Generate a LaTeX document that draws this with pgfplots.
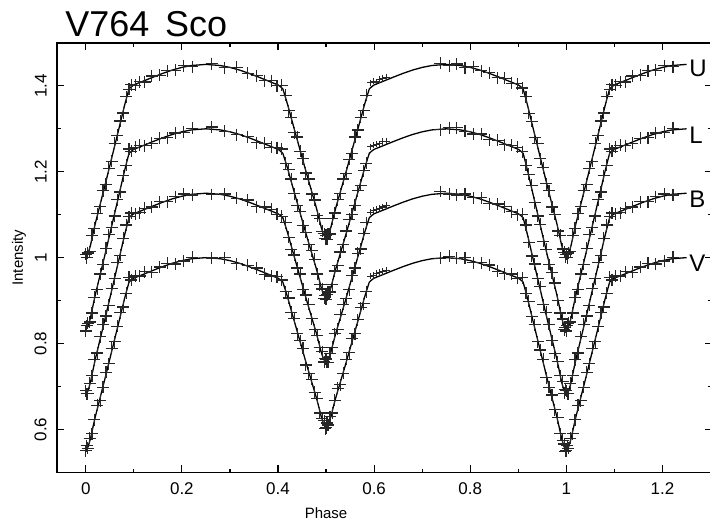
\documentclass[border=0pt]{standalone}
\usepackage{pgfplots}
\pgfplotsset{compat=1.18}
\usepackage{pgfplotstable}
\usepackage{fontspec}
\setmainfont{Liberation Sans}

\pgfplotstableread{
ph U L B V
0.000 1.0030 0.8330 0.6830 0.5530
0.005 1.0098 0.8402 0.6902 0.5598
0.010 1.0295 0.8609 0.7109 0.5795
0.015 1.0553 0.8881 0.7381 0.6053
0.020 1.0801 0.9142 0.7642 0.6301
0.030 1.1241 0.9604 0.8104 0.6741
0.040 1.1683 1.0069 0.8569 0.7183
0.050 1.2138 1.0547 0.9047 0.7638
0.060 1.2594 1.1026 0.9526 0.8094
0.070 1.3050 1.1504 1.0004 0.8550
0.080 1.3513 1.1990 1.0490 0.9013
0.085 1.3726 1.2215 1.0715 0.9226
0.090 1.3930 1.2430 1.0930 0.9430
0.095 1.3981 1.2481 1.0981 0.9481
0.100 1.4022 1.2522 1.1022 0.9522
0.120 1.4112 1.2612 1.1112 0.9612
0.140 1.4203 1.2703 1.1203 0.9703
0.160 1.4290 1.2790 1.1290 0.9790
0.180 1.4368 1.2868 1.1368 0.9868
0.200 1.4430 1.2930 1.1430 0.9930
0.220 1.4474 1.2974 1.1474 0.9974
0.250 1.4500 1.3000 1.1500 1.0000
0.280 1.4474 1.2974 1.1474 0.9974
0.300 1.4430 1.2930 1.1430 0.9930
0.320 1.4368 1.2868 1.1368 0.9868
0.340 1.4290 1.2790 1.1290 0.9790
0.360 1.4203 1.2703 1.1203 0.9703
0.380 1.4112 1.2612 1.1112 0.9612
0.400 1.4022 1.2522 1.1022 0.9522
0.405 1.3981 1.2481 1.0981 0.9481
0.410 1.3930 1.2430 1.0930 0.9430
0.415 1.3751 1.2257 1.0757 0.9257
0.420 1.3564 1.2075 1.0575 0.9075
0.430 1.3150 1.1673 1.0173 0.8673
0.440 1.2744 1.1278 0.9778 0.8278
0.450 1.2339 1.0884 0.9384 0.7884
0.460 1.1934 1.0491 0.8991 0.7491
0.470 1.1542 1.0110 0.8610 0.7110
0.480 1.1151 0.9731 0.8231 0.6731
0.485 1.0932 0.9518 0.8018 0.6518
0.490 1.0704 0.9297 0.7797 0.6297
0.495 1.0530 0.9128 0.7628 0.6128
0.500 1.0470 0.9070 0.7570 0.6070
0.505 1.0530 0.9128 0.7628 0.6128
0.510 1.0704 0.9297 0.7797 0.6297
0.515 1.0932 0.9518 0.8018 0.6518
0.520 1.1151 0.9731 0.8231 0.6731
0.530 1.1542 1.0110 0.8610 0.7110
0.540 1.1934 1.0491 0.8991 0.7491
0.550 1.2339 1.0884 0.9384 0.7884
0.560 1.2744 1.1278 0.9778 0.8278
0.570 1.3150 1.1673 1.0173 0.8673
0.580 1.3564 1.2075 1.0575 0.9075
0.585 1.3751 1.2257 1.0757 0.9257
0.590 1.3930 1.2430 1.0930 0.9430
0.595 1.3981 1.2481 1.0981 0.9481
0.600 1.4022 1.2522 1.1022 0.9522
0.620 1.4112 1.2612 1.1112 0.9612
0.640 1.4203 1.2703 1.1203 0.9703
0.660 1.4290 1.2790 1.1290 0.9790
0.680 1.4368 1.2868 1.1368 0.9868
0.700 1.4430 1.2930 1.1430 0.9930
0.720 1.4474 1.2974 1.1474 0.9974
0.750 1.4500 1.3000 1.1500 1.0000
0.780 1.4474 1.2974 1.1474 0.9974
0.800 1.4430 1.2930 1.1430 0.9930
0.820 1.4368 1.2868 1.1368 0.9868
0.840 1.4290 1.2790 1.1290 0.9790
0.860 1.4203 1.2703 1.1203 0.9703
0.880 1.4112 1.2612 1.1112 0.9612
0.900 1.4022 1.2522 1.1022 0.9522
0.905 1.3981 1.2481 1.0981 0.9481
0.910 1.3930 1.2430 1.0930 0.9430
0.915 1.3726 1.2215 1.0715 0.9226
0.920 1.3513 1.1990 1.0490 0.9013
0.930 1.3050 1.1504 1.0004 0.8550
0.940 1.2594 1.1026 0.9526 0.8094
0.950 1.2138 1.0547 0.9047 0.7638
0.960 1.1683 1.0069 0.8569 0.7183
0.970 1.1241 0.9604 0.8104 0.6741
0.980 1.0801 0.9142 0.7642 0.6301
0.985 1.0553 0.8881 0.7381 0.6053
0.990 1.0295 0.8609 0.7109 0.5795
0.995 1.0098 0.8402 0.6902 0.5598
1.000 1.0030 0.8330 0.6830 0.5530
1.005 1.0098 0.8402 0.6902 0.5598
1.010 1.0295 0.8609 0.7109 0.5795
1.015 1.0553 0.8881 0.7381 0.6053
1.020 1.0801 0.9142 0.7642 0.6301
1.030 1.1241 0.9604 0.8104 0.6741
1.040 1.1683 1.0069 0.8569 0.7183
1.050 1.2138 1.0547 0.9047 0.7638
1.060 1.2594 1.1026 0.9526 0.8094
1.070 1.3050 1.1504 1.0004 0.8550
1.080 1.3513 1.1990 1.0490 0.9013
1.085 1.3726 1.2215 1.0715 0.9226
1.090 1.3930 1.2430 1.0930 0.9430
1.095 1.3981 1.2481 1.0981 0.9481
1.100 1.4022 1.2522 1.1022 0.9522
1.120 1.4112 1.2612 1.1112 0.9612
1.140 1.4203 1.2703 1.1203 0.9703
1.160 1.4290 1.2790 1.1290 0.9790
1.180 1.4368 1.2868 1.1368 0.9868
1.200 1.4430 1.2930 1.1430 0.9930
1.220 1.4474 1.2974 1.1474 0.9974
1.250 1.4500 1.3000 1.1500 1.0000
}\model

\pgfplotstableread{
ph U L B V
0.000 1.008 0.829 0.690 0.550
0.002 1.000 0.841 0.683 0.562
0.004 1.011 0.847 0.683 0.556
0.008 1.014 0.850 0.707 0.579
0.013 1.052 0.871 0.725 0.590
0.018 1.068 0.908 0.762 0.623
0.024 1.102 0.926 0.778 0.656
0.030 1.119 0.962 0.816 0.667
0.036 1.156 0.984 0.845 0.698
0.042 1.171 1.022 0.864 0.733
0.048 1.208 1.053 0.889 0.753
0.054 1.224 1.071 0.928 0.789
0.060 1.266 1.097 0.951 0.804
0.066 1.285 1.135 0.989 0.840
0.072 1.318 1.153 1.005 0.872
0.078 1.337 1.191 1.045 0.885
0.084 1.375 1.215 1.076 0.917
0.090 1.392 1.253 1.095 0.954
0.095 1.403 1.248 1.104 0.948
0.103 1.401 1.257 1.102 0.957
0.112 1.410 1.262 1.105 0.957
0.123 1.409 1.261 1.115 0.967
0.137 1.423 1.266 1.118 0.966
0.154 1.425 1.278 1.130 0.978
0.170 1.435 1.279 1.130 0.987
0.186 1.436 1.290 1.142 0.985
0.204 1.447 1.292 1.148 0.992
0.222 1.445 1.301 1.146 1.001
0.262 1.452 1.304 1.147 0.999
0.289 1.442 1.294 1.148 1.000
0.314 1.443 1.286 1.138 0.986
0.337 1.429 1.282 1.134 0.982
0.356 1.424 1.268 1.119 0.976
0.372 1.412 1.266 1.118 0.961
0.386 1.412 1.257 1.113 0.957
0.398 1.400 1.256 1.101 0.956
0.408 1.401 1.253 1.096 0.948
0.416 1.378 1.220 1.081 0.921
0.422 1.342 1.205 1.047 0.906
0.428 1.326 1.183 1.019 0.873
0.434 1.291 1.149 1.006 0.859
0.440 1.281 1.122 0.976 0.823
0.446 1.248 1.108 0.962 0.807
0.452 1.230 1.074 0.926 0.789
0.458 1.197 1.059 0.913 0.750
0.464 1.183 1.030 0.891 0.731
0.470 1.148 1.016 0.858 0.717
0.476 1.134 0.996 0.832 0.686
0.482 1.098 0.962 0.819 0.672
0.487 1.091 0.937 0.791 0.638
0.492 1.061 0.927 0.781 0.626
0.496 1.056 0.905 0.757 0.620
0.498 1.044 0.911 0.765 0.602
0.500 1.052 0.903 0.764 0.604
0.502 1.043 0.914 0.756 0.615
0.504 1.055 0.920 0.756 0.610
0.508 1.055 0.920 0.777 0.630
0.513 1.091 0.937 0.791 0.638
0.518 1.104 0.969 0.823 0.668
0.524 1.135 0.981 0.833 0.696
0.530 1.149 1.013 0.867 0.704
0.536 1.183 1.030 0.891 0.731
0.542 1.196 1.062 0.904 0.763
0.548 1.229 1.089 0.925 0.779
0.554 1.242 1.101 0.958 0.811
0.560 1.281 1.122 0.976 0.823
0.566 1.297 1.156 1.010 0.855
0.572 1.327 1.168 1.020 0.883
0.578 1.343 1.202 1.056 0.893
0.584 1.378 1.220 1.081 0.921
0.738 1.453 1.298 1.154 0.998
0.756 1.447 1.303 1.148 1.003
0.772 1.451 1.303 1.146 0.998
0.789 1.442 1.294 1.148 1.000
0.806 1.445 1.288 1.140 0.988
0.823 1.435 1.288 1.140 0.988
0.840 1.431 1.275 1.126 0.983
0.857 1.419 1.273 1.125 0.968
0.872 1.418 1.263 1.119 0.963
0.886 1.406 1.262 1.107 0.962
0.898 1.405 1.257 1.100 0.952
0.908 1.395 1.247 1.101 0.953
0.916 1.375 1.215 1.076 0.917
0.922 1.336 1.194 1.036 0.898
0.928 1.317 1.168 1.004 0.862
0.934 1.279 1.128 0.985 0.844
0.940 1.266 1.097 0.951 0.804
0.946 1.230 1.078 0.932 0.785
0.952 1.209 1.038 0.890 0.763
0.958 1.172 1.019 0.873 0.720
0.964 1.156 0.984 0.845 0.698
0.970 1.118 0.965 0.807 0.680
0.976 1.101 0.941 0.777 0.646
0.982 1.062 0.901 0.758 0.627
0.987 1.052 0.871 0.725 0.590
0.992 1.020 0.857 0.711 0.575
0.996 1.012 0.832 0.684 0.566
0.998 1.001 0.838 0.692 0.549
1.000 1.008 0.829 0.690 0.550
1.002 1.000 0.841 0.683 0.562
1.004 1.011 0.847 0.683 0.556
1.008 1.014 0.850 0.707 0.579
1.013 1.052 0.871 0.725 0.590
1.018 1.068 0.908 0.762 0.623
1.024 1.102 0.926 0.778 0.656
1.030 1.119 0.962 0.816 0.667
1.036 1.156 0.984 0.845 0.698
1.042 1.171 1.022 0.864 0.733
1.048 1.208 1.053 0.889 0.753
1.054 1.224 1.071 0.928 0.789
1.060 1.266 1.097 0.951 0.804
1.066 1.285 1.135 0.989 0.840
1.072 1.318 1.153 1.005 0.872
1.078 1.337 1.191 1.045 0.885
1.084 1.375 1.215 1.076 0.917
1.090 1.392 1.253 1.095 0.954
1.095 1.403 1.248 1.104 0.948
1.103 1.401 1.257 1.102 0.957
1.112 1.410 1.262 1.105 0.957
1.123 1.409 1.261 1.115 0.967
1.137 1.423 1.266 1.118 0.966
1.154 1.425 1.278 1.130 0.978
1.170 1.435 1.279 1.130 0.987
1.186 1.436 1.290 1.142 0.985
1.204 1.447 1.292 1.148 0.992
1.222 1.445 1.301 1.146 1.001
}\pts

\pgfplotstableread{
ph U L B V
0.592 1.407 1.258 1.106 0.957
0.598 1.411 1.262 1.110 0.958
0.604 1.409 1.264 1.113 0.963
0.611 1.415 1.265 1.114 0.966
0.618 1.417 1.270 1.118 0.968
0.626 1.420 1.271 1.121 0.971
}\ptssmall

\pgfplotsset{
  modelline/.style={black, line width=0.65pt, no markers},
  bigpts/.style={only marks, mark=+, mark size=3pt, black!85, mark options={line width=0.6pt}},
  smallpts/.style={only marks, mark=+, mark size=1.6pt, black!85, mark options={line width=0.55pt}},
}

\begin{document}
\begin{tikzpicture}
\begin{axis}[
  width=328pt, height=215pt, scale only axis,
  xmin=-0.06, xmax=1.303, ymin=0.5, ymax=1.5,
  xtick={0,0.2,0.4,0.6,0.8,1,1.2},
  ytick={0.6,0.8,1,1.2,1.4},
  minor x tick num=1, minor y tick num=1,
  tick align=inside,
  major tick length=3.6pt, minor tick length=1.8pt,
  axis line style={line width=0.65pt},
  tick style={black, line width=0.6pt},
  /pgf/number format/assume math mode=true,
  tick label style={font=\fontsize{8.5}{10}\selectfont},
  xticklabel style={anchor=north, inner sep=0pt},
  xticklabel shift=5pt,
  yticklabel style={rotate=90, anchor=south, inner sep=0pt},
  yticklabel shift=5pt,
  clip=false,
]
\addplot[modelline] table[x=ph, y=U] {\model};
\addplot[modelline] table[x=ph, y=L] {\model};
\addplot[modelline] table[x=ph, y=B] {\model};
\addplot[modelline] table[x=ph, y=V] {\model};
\addplot[bigpts] table[x=ph, y=U] {\pts};
\addplot[bigpts] table[x=ph, y=L] {\pts};
\addplot[bigpts] table[x=ph, y=B] {\pts};
\addplot[bigpts] table[x=ph, y=V] {\pts};
\addplot[smallpts] table[x=ph, y=U] {\ptssmall};
\addplot[smallpts] table[x=ph, y=L] {\ptssmall};
\addplot[smallpts] table[x=ph, y=B] {\ptssmall};
\addplot[smallpts] table[x=ph, y=V] {\ptssmall};

\node[anchor=west, inner sep=0.5pt, font=\fontsize{12}{12}\selectfont] at (axis cs:1.253,1.440) {U};
\node[anchor=west, inner sep=0.5pt, font=\fontsize{12}{12}\selectfont] at (axis cs:1.253,1.285) {L};
\node[anchor=west, inner sep=0.5pt, font=\fontsize{12}{12}\selectfont] at (axis cs:1.253,1.135) {B};
\node[anchor=west, inner sep=0.5pt, font=\fontsize{12}{12}\selectfont] at (axis cs:1.253,0.987) {V};

\node[anchor=base west, inner sep=0pt, xshift=4pt, yshift=3pt, font=\fontsize{18}{18}\selectfont] at (rel axis cs:0,1) {V764 \,Sco};
\node[inner sep=0pt, yshift=-20.5pt, font=\fontsize{7.5}{9}\selectfont] at (axis cs:0.5,0.5) {Phase};
\end{axis}
\node[rotate=90, inner sep=0pt, font=\fontsize{7.5}{9}\selectfont] at ([xshift=-19pt]current axis.west) {Intensity};
\pgfresetboundingbox
\path ([xshift=-28.5pt,yshift=-27pt]current axis.south west) rectangle ([xshift=-1pt,yshift=21.5pt]current axis.north east);
\end{tikzpicture}
\end{document}
